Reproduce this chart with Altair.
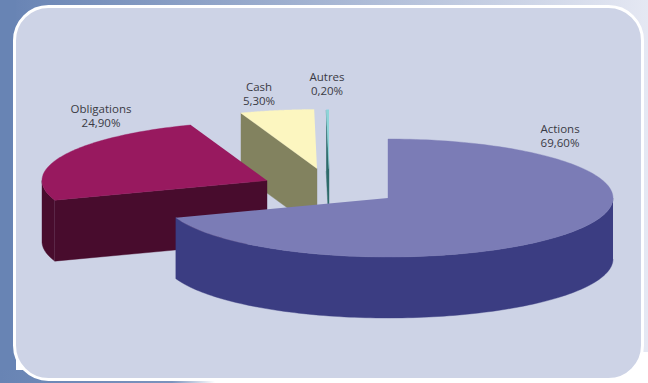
import numpy as np
import pandas as pd
import altair as alt

# Portfolio allocation, in percent
categories = ["Actions", "Obligations", "Cash", "Autres"]
shares = [69.6, 24.9, 5.3, 0.2]
labels = ["69,60%", "24,90%", "5,30%", "0,20%"]

# Slice colours: top face, then side wall
top_colors = ["#7b7cb6", "#98195f", "#fcf6c0", "#8ed5d8"]
wall_colors = ["#3b3d82", "#480c2d", "#82825f", "#2e6a6a"]

# Exploded position of each slice's apex, and its label anchor
apex_x = [388, 267, 317, 329]
apex_y = [198, 180.5, 168.5, 169]
label_x = [560, 101, 259, 327]
label_y = [130, 110, 88, 78]

RX, RY, DEPTH = 225, 59, 61
W, H = 648, 383

x_scale = alt.Scale(domain=[0, W])
y_scale = alt.Scale(domain=[H, 0])


def rim(cx, cy, a0, a1, n=90):
    """Points on the elliptical rim, angles clockwise from 12 o'clock."""
    t = np.radians(np.linspace(a0, a1, n))
    return list(zip(cx + RX * np.sin(t), cy - RY * np.cos(t)))


def polygon(points, color):
    df = pd.DataFrame(points, columns=["x", "y"])
    df["i"] = range(len(df))
    return (
        alt.Chart(df)
        .mark_line(fill=color, stroke=color, strokeWidth=0.4, strokeJoin="round")
        .encode(
            x=alt.X("x:Q", scale=x_scale, axis=None),
            y=alt.Y("y:Q", scale=y_scale, axis=None),
            order=alt.Order("i:Q"),
        )
    )


def drop(points):
    return [(x, y + DEPTH) for x, y in points]


def rect(x, x2, y, y2, fill, **kw):
    return (
        alt.Chart(alt.Data(values=[{}]))
        .mark_rect(fill=fill, **kw)
        .encode(x=alt.value(x), x2=alt.value(x2), y=alt.value(y), y2=alt.value(y2))
    )


def fade(*stops):
    return alt.LinearGradient(
        gradient="linear",
        x1=0, x2=1, y1=0, y2=0,
        stops=[alt.GradientStop(offset=o, color=c) for o, c in stops],
    )


# Page backdrop and rounded panel
layers = [
    rect(0, W, 0, 352, fade((0, "#6682b3"), (1, "#e5e8f3"))),
    rect(0, 16, 0, H, "#6884b4"),
    rect(0, 215, 370, H, fade((0, "#6884b4"), (0.8, "#7b93bd"), (1, "#ffffff"))),
    rect(14.5, 642.5, 6.5, 379.5, "#cdd3e6", stroke="#ffffff", strokeWidth=3, cornerRadius=34),
]

# Slice start and end angles follow from the shares
ends = np.cumsum(shares) * 3.6
starts = np.concatenate([[0], ends[:-1]])
angles = dict(zip(categories, zip(starts, ends)))
apex = dict(zip(categories, zip(apex_x, apex_y)))
top = dict(zip(categories, top_colors))
wall = dict(zip(categories, wall_colors))

# Painted back to front: Autres, Cash, Obligations, Actions
for name in ["Autres", "Cash"]:
    cx, cy = apex[name]
    a0, a1 = angles[name]
    edge = [rim(cx, cy, a0, a0, 1)[0], (cx, cy)]
    layers.append(polygon(edge + drop(edge)[::-1], wall[name]))
    layers.append(polygon([(cx, cy)] + rim(cx, cy, a0, a1), top[name]))

cx, cy = apex["Obligations"]
a0, a1 = angles["Obligations"]
outer = rim(cx, cy, a0, 270, 30)
layers.append(polygon(outer + drop(outer)[::-1], wall["Obligations"]))
edge = [outer[0], (cx, cy)]
layers.append(polygon(edge + drop(edge)[::-1], wall["Obligations"]))
layers.append(polygon([(cx, cy)] + rim(cx, cy, a0, a1), top["Obligations"]))

cx, cy = apex["Actions"]
a0, a1 = angles["Actions"]
outer = rim(cx, cy, 90, a1, 120)
layers.append(polygon(outer + drop(outer)[::-1], wall["Actions"]))
layers.append(polygon([(cx, cy)] + rim(cx, cy, a0, a1, 180), top["Actions"]))

# Two-line slice labels: name above, share below
label_df = pd.DataFrame(
    {"name": categories, "share": labels, "x": label_x, "y": label_y}
)
label_df["y2"] = label_df["y"] + 14
for text_field, y_field in [("name", "y"), ("share", "y2")]:
    layers.append(
        alt.Chart(label_df)
        .mark_text(font="Open Sans", fontSize=11.5, color="#3a3a44", align="center", baseline="middle")
        .encode(
            x=alt.X("x:Q", scale=x_scale, axis=None),
            y=alt.Y(f"{y_field}:Q", scale=y_scale, axis=None),
            text=f"{text_field}:N",
        )
    )

chart = (
    alt.layer(*layers)
    .properties(width=W, height=H, padding=0, autosize=alt.AutoSizeParams(type="none"), background="#ffffff")
    .configure_view(stroke=None)
)

chart.save("out.html", embed_options={"renderer": "svg", "actions": False})
